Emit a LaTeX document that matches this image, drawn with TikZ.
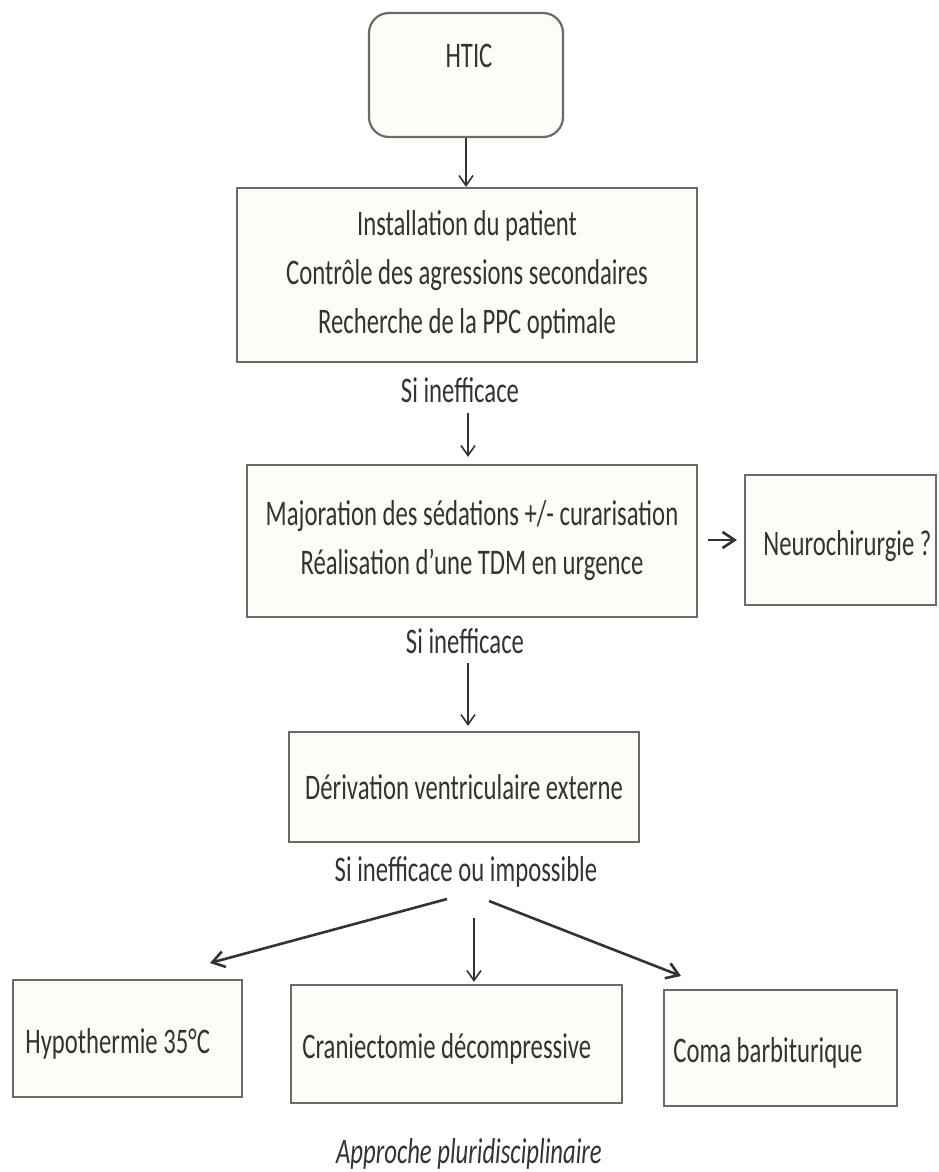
\documentclass[tikz,border=0pt]{standalone}
\usepackage{fontspec}
\setmainfont{Carlito}[FakeStretch=0.686]
\usetikzlibrary{arrows.meta}
\definecolor{ink}{HTML}{333333}
\definecolor{frame}{HTML}{6A6A6A}
\definecolor{paper}{HTML}{FDFDF7}
\begin{document}
\begin{tikzpicture}[x=0.5pt,y=-0.5pt,
  every node/.style={text=ink, font=\fontsize{18pt}{24.5pt}\selectfont},
  box/.style={draw=frame, fill=paper, line width=1.1pt, inner sep=0pt, align=center},
  lbl/.style={anchor=base, inner sep=0pt},
  arr/.style={draw=ink, line width=0.8pt, -{Straight Barb[length=5pt,width=7pt]}},
  bold arr/.style={draw=ink, line width=1.3pt, -{Straight Barb[length=6pt,width=8pt]}}]
\useasboundingbox (0,0) rectangle (938,1172);
\fill[white] (0,0) rectangle (938,1172);

% first step
\node[box, rounded corners=10pt, minimum width=97pt, minimum height=62pt] (htic) at (466,75) {};
\node[lbl] (htic-t) at (469,68) {HTIC};

% general measures
\node[box, minimum width=230pt, minimum height=87pt] (care) at (467,275)
  {Installation du patient\\Contrôle des agressions secondaires\\Recherche de la PPC optimale};
\node[lbl] (si1) at (460,402) {Si inefficace};

% sedation and imaging
\node[box, minimum width=225pt, minimum height=76pt] (sed) at (472,541)
  {Majoration des sédations +/- curarisation\\Réalisation d’une TDM en urgence};
\node[box, minimum width=95.5pt, minimum height=65pt] (neuro) at (840.5,540) {};
\node[lbl, anchor=base west] (neuro-t) at (763,555) {Neurochirurgie ?};
\node[lbl] (si2) at (465,653) {Si inefficace};

% drainage
\node[box, minimum width=175pt, minimum height=55pt] (dve) at (464,787) {Dérivation ventriculaire externe};
\node[lbl] (si3) at (466,881) {Si inefficace ou impossible};

% last-line options
\node[box, minimum width=114.5pt, minimum height=58.5pt] (hypo) at (127.5,1038.5) {};
\node[lbl, anchor=base west] (hypo-t) at (25,1053) {Hypothermie 35°C};
\node[box, minimum width=165.5pt, minimum height=59pt] (cran) at (456.5,1044) {};
\node[lbl, anchor=base west] (cran-t) at (302,1058) {Craniectomie décompressive};
\node[box, minimum width=116.5pt, minimum height=58pt] (coma) at (780.5,1048) {};
\node[lbl, anchor=base west] (coma-t) at (673,1062) {Coma barbiturique};
\node[lbl, font=\fontsize{18pt}{24.5pt}\selectfont\itshape] (appr) at (469,1163) {Approche pluridisciplinaire};

% connectors
\draw[arr] (htic.south) -- (htic.south |- care.north);
\coordinate (a2) at (468,413);
\draw[arr, shorten >=3.5pt] (a2) -- (a2 |- sed.north);
\coordinate (a3) at (468,663);
\draw[arr, shorten >=2.5pt] (a3) -- (a3 |- dve.north);
\coordinate (a4) at (708,540);
\draw[bold arr, shorten >=3.5pt] (a4) -- (a4 -| neuro.west);
\coordinate (f1) at (447,899);
\coordinate (f1e) at (210,963);
\draw[bold arr] (f1) -- (f1e);
\coordinate (f2) at (474,918);
\draw[arr, shorten >=1pt] (f2) -- (f2 |- cran.north);
\coordinate (f3) at (489,901);
\coordinate (f3e) at (681,976);
\draw[bold arr] (f3) -- (f3e);
\end{tikzpicture}
\end{document}
